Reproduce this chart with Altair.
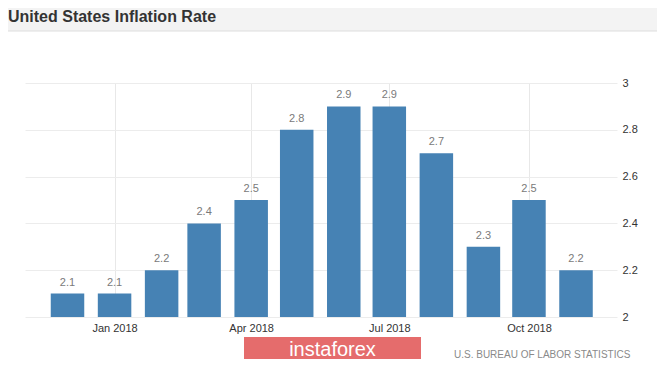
import altair as alt
import pandas as pd

# ---- data ----
months = ["2017-12-01", "2018-01-01", "2018-02-01", "2018-03-01", "2018-04-01",
          "2018-05-01", "2018-06-01", "2018-07-01", "2018-08-01", "2018-09-01",
          "2018-10-01", "2018-11-01"]
rates = [2.1, 2.1, 2.2, 2.4, 2.5, 2.8, 2.9, 2.9, 2.7, 2.3, 2.5, 2.2]
x_tick_dates = [(2018, 1), (2018, 4), (2018, 7), (2018, 10)]
y_ticks = [2, 2.2, 2.4, 2.6, 2.8, 3]
title_text = "United States Inflation Rate"
source_text = "U.S. BUREAU OF LABOR STATISTICS"
logo_text = "instaforex"

FONT = "Liberation Sans"

df = pd.DataFrame({"month": months, "rate": rates})

x_scale = alt.Scale(
    type="utc", padding=0,
    domain=[alt.DateTime(year=2017, month=11, date=3, utc=True),
            alt.DateTime(year=2018, month=11, date=28, utc=True)],
)
x_axis = alt.Axis(
    values=[alt.DateTime(year=y, month=m, date=1, utc=True) for y, m in x_tick_dates],
    labelExpr="utcFormat(datum.value, '%b %Y')", title=None,
    grid=True, gridColor="#e8e8e8", domain=False, ticks=False,
    labelPadding=5, labelFontSize=11, labelColor="#333333", labelFont=FONT,
)
y_scale = alt.Scale(domain=[2, 3], zero=False, nice=False)
y_axis = alt.Axis(
    orient="right", values=y_ticks, format="~g", title=None,
    grid=True, gridColor="#ececec", domain=False, ticks=False,
    labelPadding=5, labelFontSize=11, labelColor="#333333", labelFont=FONT,
)

base = alt.Chart(df).encode(x=alt.X("month:T", scale=x_scale, axis=x_axis))

bars = base.mark_bar(size=33.5, color="#4682b4").encode(
    y=alt.Y("rate:Q", scale=y_scale, axis=y_axis),
    y2=alt.datum(2),
)
labels = base.mark_text(dy=-8, baseline="alphabetic", fontSize=11,
                        color="#7a7a7a", font=FONT).encode(
    y=alt.Y("rate:Q", scale=y_scale),
    text=alt.Text("rate:Q", format=".1f"),
)

one = alt.Data(values=[{"k": 1}])

header = alt.Chart(one).mark_rect(color="#f3f3f3").encode(
    x=alt.value(-17), x2=alt.value(632), y=alt.value(-75), y2=alt.value(-52))
header_line = alt.Chart(one).mark_rule(color="#dddddd", strokeWidth=1).encode(
    x=alt.value(-17), x2=alt.value(632), y=alt.value(-52))
title = alt.Chart(one).mark_text(
    text=title_text, align="left", baseline="alphabetic", fontSize=16,
    fontWeight="bold", color="#333333", font=FONT).encode(
    x=alt.value(-17), y=alt.value(-61))

logo_box = alt.Chart(one).mark_rect(color="#e56c6c").encode(
    x=alt.value(219), x2=alt.value(396), y=alt.value(254), y2=alt.value(276))
logo = alt.Chart(one).mark_text(
    text=logo_text, align="center", baseline="alphabetic", fontSize=20,
    color="#ffffff", font=FONT).encode(x=alt.value(307.5), y=alt.value(273))
source = alt.Chart(one).mark_text(
    text=source_text, align="left", baseline="alphabetic", fontSize=10,
    color="#8a8a8a", font=FONT).encode(x=alt.value(429), y=alt.value(275))

chart = alt.layer(
    header, header_line, title, bars, labels, logo_box, logo, source
).properties(
    width=592, height=234,
    padding={"left": 17, "top": 75, "right": 40, "bottom": 42},
    autosize=alt.AutoSizeParams(type="none"),
    background="#ffffff",
).configure_view(stroke=None)

chart.save("out.html", embed_options={"renderer": "svg", "actions": False})
